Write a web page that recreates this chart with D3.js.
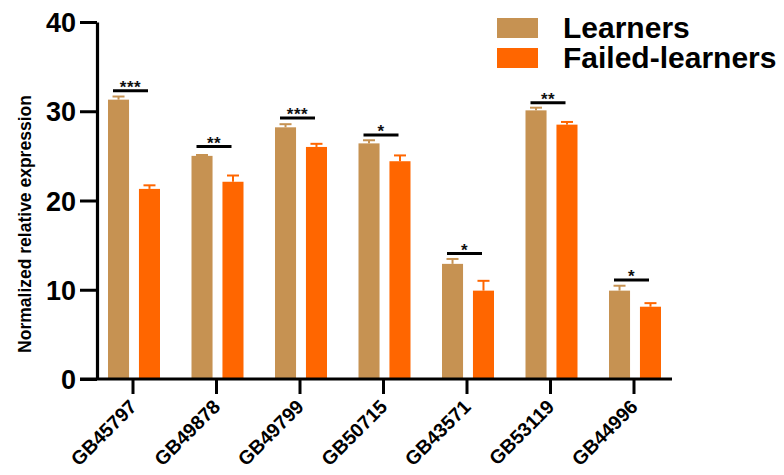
<!DOCTYPE html>
<html>
<head>
<meta charset="utf-8">
<script src="https://cdn.jsdelivr.net/npm/d3@7"></script>
<style>
  html, body { margin: 0; padding: 0; background: #fff; }
  svg { display: block; font-family: "Liberation Sans", Arial, sans-serif; }
</style>
</head>
<body>
<svg id="chart" width="784" height="475"></svg>
<script>
// Genes on the x axis
const genes = ["GB45797", "GB49878", "GB49799", "GB50715", "GB43571", "GB53119", "GB44996"];
// Groups
const series = ["Learners", "Failed-learners"];
// Mean normalized relative expression per group
const learnersMean = [31.3, 25.0, 28.2, 26.4, 12.9, 30.1, 9.9];
const failedMean   = [21.3, 22.1, 26.0, 24.4, 9.9, 28.5, 8.1];
// Upper error (SEM) per group
const learnersErr  = [0.35, 0.1, 0.35, 0.35, 0.55, 0.3, 0.55];
const failedErr    = [0.4, 0.7, 0.35, 0.65, 1.1, 0.3, 0.4];
// Significance marks and bracket heights
const sigLabels = ["***", "**", "***", "*", "*", "**", "*"];
const sigLevel  = [32.3, 26.05, 29.25, 27.35, 14.05, 30.95, 11.1];
// Y axis ticks
const yTicks = [0, 10, 20, 30, 40];

const colors = { "Learners": "#C69252", "Failed-learners": "#FF6600" };

const svg = d3.select("#chart");

const y = d3.scaleLinear().domain([0, 40]).range([379, 22]);
const x = d3.scaleBand().domain(genes).range([91.25, 675.75]).padding(0);
const sub = d3.scaleBand().domain(series).range([-25, 27]).paddingInner(0.32);

const rows = genes.map((g, i) => ({
  gene: g,
  values: [
    { key: "Learners", mean: learnersMean[i], err: learnersErr[i] },
    { key: "Failed-learners", mean: failedMean[i], err: failedErr[i] }
  ],
  sig: sigLabels[i],
  sigY: sigLevel[i]
}));

const cx = g => x(g) + x.bandwidth() / 2;

// Bars with error whiskers
const groups = svg.append("g").selectAll("g").data(rows).join("g")
  .attr("transform", d => `translate(${cx(d.gene)},0)`);

groups.selectAll("rect").data(d => d.values).join("rect")
  .attr("x", d => sub(d.key))
  .attr("y", d => y(d.mean))
  .attr("width", sub.bandwidth())
  .attr("height", d => y(0) - y(d.mean))
  .attr("fill", d => colors[d.key]);

const eb = groups.selectAll("g.err").data(d => d.values).join("g").attr("class", "err");
eb.append("line")
  .attr("x1", d => sub(d.key) + sub.bandwidth() / 2)
  .attr("x2", d => sub(d.key) + sub.bandwidth() / 2)
  .attr("y1", d => y(d.mean))
  .attr("y2", d => y(d.mean + d.err))
  .attr("stroke", d => colors[d.key]).attr("stroke-width", 2);
eb.append("line")
  .attr("x1", d => sub(d.key) + sub.bandwidth() / 2 - 6)
  .attr("x2", d => sub(d.key) + sub.bandwidth() / 2 + 6)
  .attr("y1", d => y(d.mean + d.err))
  .attr("y2", d => y(d.mean + d.err))
  .attr("stroke", d => colors[d.key]).attr("stroke-width", 2);

// Significance brackets
groups.append("line")
  .attr("x1", -20).attr("x2", 15)
  .attr("y1", d => y(d.sigY)).attr("y2", d => y(d.sigY))
  .attr("stroke", "#000").attr("stroke-width", 3);
groups.append("text")
  .attr("x", -2.5)
  .attr("y", d => y(d.sigY) + 2.5)
  .attr("text-anchor", "middle")
  .attr("font-size", 17)
  .attr("letter-spacing", 0.5)
  .attr("font-weight", "bold")
  .attr("fill", "#111")
  .text(d => d.sig);

// Y axis
const yAxis = svg.append("g")
  .attr("transform", "translate(97,0)")
  .call(d3.axisLeft(y).tickValues(yTicks).tickSize(17).tickSizeOuter(0).tickPadding(4));
yAxis.select(".domain").attr("stroke", "#000").attr("stroke-width", 3.2);
yAxis.selectAll(".tick line").attr("stroke", "#000").attr("stroke-width", 3);
yAxis.selectAll(".tick text")
  .attr("font-size", 27).attr("font-weight", "bold").attr("fill", "#000")
  .attr("font-family", "Liberation Sans, Arial, sans-serif")
  .attr("dy", "0.36em");

// X axis
const xAxis = svg.append("g")
  .attr("transform", `translate(0,${y(0)})`)
  .call(d3.axisBottom(x).tickSize(15).tickSizeOuter(0));
xAxis.select(".domain").remove();
xAxis.append("line").attr("x1", 80).attr("x2", 672).attr("y1", 0).attr("y2", 0)
  .attr("stroke", "#000").attr("stroke-width", 3.2);
xAxis.selectAll(".tick line").attr("stroke", "#000").attr("stroke-width", 3);
xAxis.selectAll(".tick text")
  .attr("font-size", 19.5).attr("font-weight", "bold").attr("fill", "#000")
  .attr("font-family", "Liberation Sans, Arial, sans-serif")
  .attr("text-anchor", "end")
  .attr("x", 0).attr("y", 0).attr("dy", "0")
  .attr("transform", "translate(5,29) rotate(-45)");

// Y axis title
svg.append("text")
  .attr("transform", "translate(31,224) rotate(-90)")
  .attr("text-anchor", "middle")
  .attr("font-size", 17.5)
  .attr("font-weight", "bold")
  .text("Normalized relative expression");

// Legend
const legend = svg.append("g").selectAll("g").data(series).join("g")
  .attr("transform", (d, i) => `translate(497,${18 + i * 30})`);
legend.append("rect")
  .attr("width", 41).attr("height", 20)
  .attr("fill", d => colors[d]);
legend.append("text")
  .attr("x", 66).attr("y", 20)
  .attr("font-size", 30).attr("font-weight", "bold")
  .text(d => d);
</script>
</body>
</html>
